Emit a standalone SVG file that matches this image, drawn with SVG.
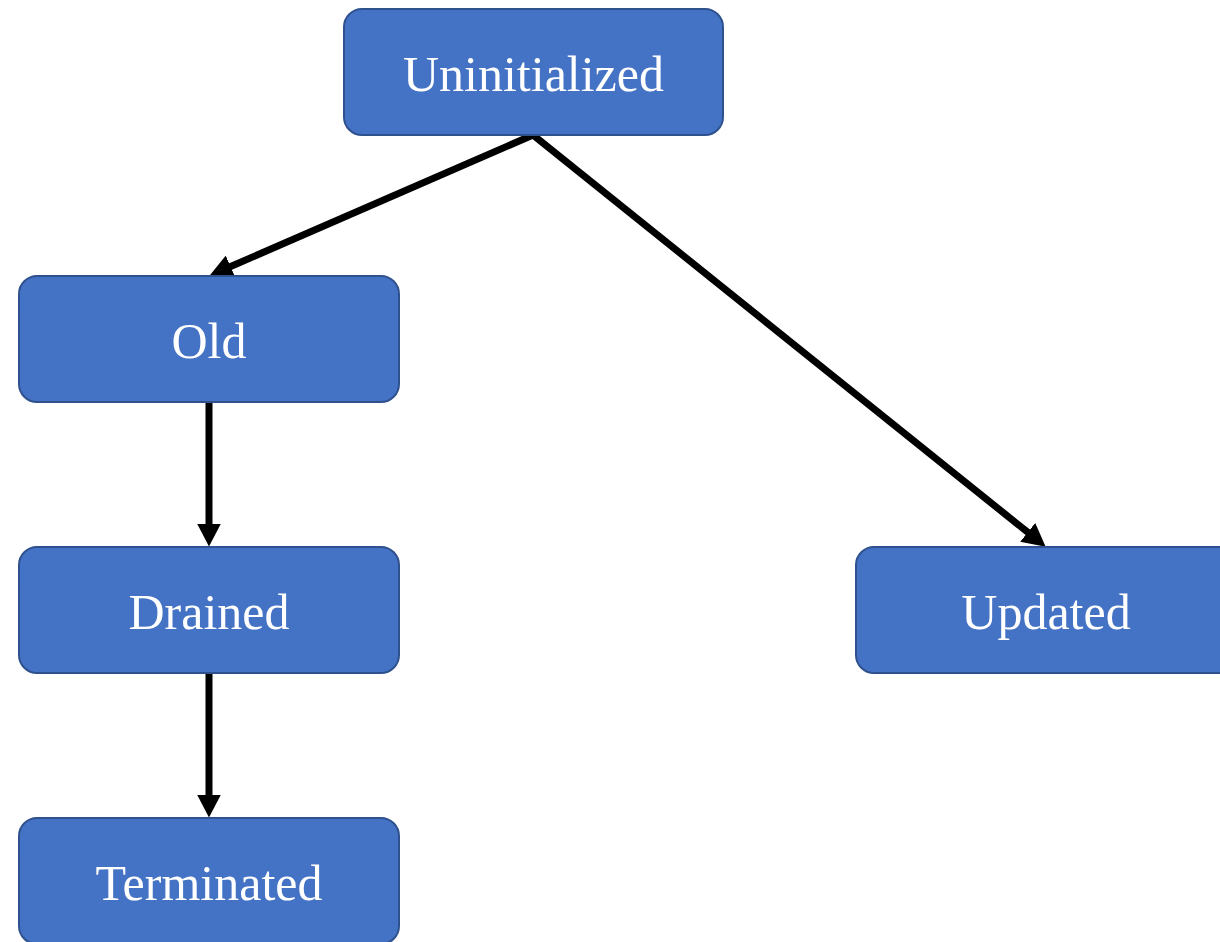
<svg xmlns="http://www.w3.org/2000/svg" width="1220" height="942" viewBox="0 0 1220 942">
<style>
.box{fill:#4472C4;stroke:#2F528F;stroke-width:2}
.lbl{fill:#ffffff;font-family:"Liberation Serif","Times New Roman",serif;font-size:50px;text-anchor:middle}
.edge{stroke:#000;stroke-width:7;fill:none}
</style>
<defs>
<marker id="ah" markerUnits="userSpaceOnUse" markerWidth="23" markerHeight="24" viewBox="0 0 23 24" refX="0.5" refY="12" orient="auto">
<path d="M0,0 L23,12 L0,24 z" fill="#000"/>
</marker>
</defs>
<rect width="1220" height="942" fill="#fff"/>
<g id="connectors">
<line class="edge" x1="533" y1="135" x2="230.1" y2="266.8" marker-end="url(#ah)"/>
<line class="edge" x1="533" y1="135" x2="1028.1" y2="532.6" marker-end="url(#ah)"/>
<line class="edge" x1="209" y1="402" x2="209" y2="524" marker-end="url(#ah)"/>
<line class="edge" x1="209" y1="673" x2="209" y2="795" marker-end="url(#ah)"/>
</g>
<g id="uninitialized"><rect class="box" x="344" y="9" width="379" height="126" rx="18"/><text class="lbl" x="533.5" y="91">Uninitialized</text></g>
<g id="old"><rect class="box" x="19" y="276" width="380" height="126" rx="18"/><text class="lbl" x="209" y="358">Old</text></g>
<g id="drained"><rect class="box" x="19" y="547" width="380" height="126" rx="18"/><text class="lbl" x="209" y="629">Drained</text></g>
<g id="updated"><rect class="box" x="856" y="547" width="380" height="126" rx="18"/><text class="lbl" x="1046" y="629">Updated</text></g>
<g id="terminated"><rect class="box" x="19" y="818" width="380" height="126" rx="18"/><text class="lbl" x="209" y="900">Terminated</text></g>
</svg>
